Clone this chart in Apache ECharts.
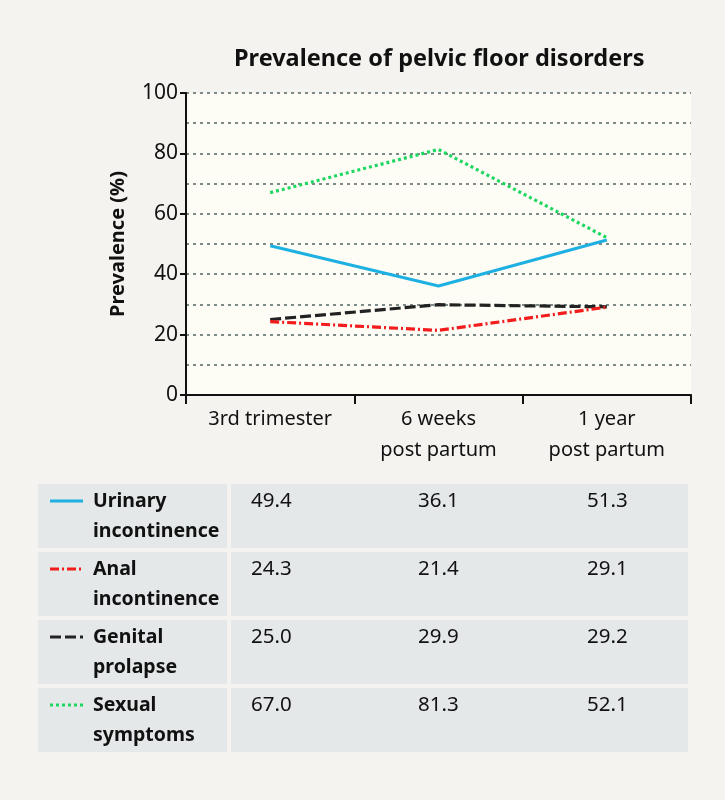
<!DOCTYPE html>
<html><head><meta charset="utf-8">
<script src="https://cdn.jsdelivr.net/npm/echarts@6/dist/echarts.min.js"></script>
<style>html,body{margin:0;padding:0;background:#f4f3f0}#c{width:725px;height:800px}</style>
</head><body><div id="c"></div>
<script>
var categories = ['3rd trimester', '6 weeks\npost partum', '1 year\npost partum'];
var seriesNames = ['Urinary\nincontinence', 'Anal\nincontinence', 'Genital\nprolapse', 'Sexual\nsymptoms'];
var urinary = [49.4, 36.1, 51.3];
var anal = [24.3, 21.4, 29.1];
var genital = [25.0, 29.9, 29.2];
var sexual = [67.0, 81.3, 52.1];
var yTicks = [0, 20, 40, 60, 80, 100];

var FONT = '"Noto Sans", "Open Sans", sans-serif';
var styles = [
  {color: '#1fb0e2', type: 'solid'},
  {color: '#f21c1c', type: [9, 3, 2, 3]},
  {color: '#222222', type: [11, 4]},
  {color: '#1ed760', type: [3, 3]}
];
var allData = [urinary, anal, genital, sexual];

var series = allData.map(function (d, i) {
  return {
    name: seriesNames[i], type: 'line', data: d, symbol: 'none',
    lineStyle: {color: styles[i].color, type: styles[i].type, width: 3.2},
    z: 10 - i
  };
});

var graphics = [];
var rowY0 = 484, rowStep = 68, rowH = 64;
var col0X = 38, col0W = 189, col1X = 231, col1W = 457;
var valueX = [251, 418, 587];
allData.forEach(function (d, i) {
  var y = rowY0 + i * rowStep;
  graphics.push({type: 'rect', shape: {x: col0X, y: y, width: col0W, height: rowH}, style: {fill: '#e5e8e9'}});
  graphics.push({type: 'rect', shape: {x: col1X, y: y, width: col1W, height: rowH}, style: {fill: '#e5e8e9'}});
  graphics.push({type: 'line', shape: {x1: 50, y1: y + 17, x2: 83, y2: y + 17},
    style: {stroke: styles[i].color, lineWidth: 3, lineDash: styles[i].type === 'solid' ? null : styles[i].type}});
  graphics.push({type: 'text', x: 93, y: y + 2, style: {text: seriesNames[i], font: 'bold 19.5px ' + FONT, fill: '#111', lineHeight: 30, verticalAlign: 'top'}});
  d.forEach(function (v, j) {
    graphics.push({type: 'text', x: valueX[j], y: y + 2, style: {text: v.toFixed(1), font: '20.5px ' + FONT, fill: '#111', lineHeight: 30, verticalAlign: 'top'}});
  });
});

var chart = echarts.init(document.getElementById('c'), null, {renderer: 'canvas'});
chart.setOption({
  backgroundColor: '#f4f3f0',
  animation: false,
  title: {
    text: 'Prevalence of pelvic floor disorders', left: 229, top: 42,
    textStyle: {fontFamily: FONT, fontWeight: 'bold', fontSize: 23.5, color: '#111'}
  },
  grid: {left: 186, right: 34, top: 93, bottom: 405, show: true, backgroundColor: '#fdfdf6', borderWidth: 0},
  xAxis: {
    type: 'category', data: categories, boundaryGap: true,
    axisLine: {lineStyle: {color: '#111', width: 2}},
    axisTick: {show: true, length: 9, lineStyle: {color: '#111', width: 2}},
    axisLabel: {fontFamily: FONT, fontSize: 20, color: '#111', lineHeight: 31, margin: 9}
  },
  yAxis: {
    type: 'value', min: 0, max: 100, interval: 20,
    name: 'Prevalence (%)', nameLocation: 'middle', nameGap: 58,
    nameTextStyle: {fontFamily: FONT, fontWeight: 'bold', fontSize: 20, color: '#111'},
    axisLine: {show: true, lineStyle: {color: '#111', width: 2}},
    axisTick: {show: true, length: 6, lineStyle: {color: '#111', width: 2}},
    axisLabel: {fontFamily: FONT, fontSize: 21, color: '#111', margin: 8},
    splitLine: {show: true, lineStyle: {color: '#7d8b8b', width: 2, type: [3, 4]}},
    minorTick: {show: false, splitNumber: 2},
    minorSplitLine: {show: true, lineStyle: {color: '#7d8b8b', width: 2, type: [3, 4]}}
  },
  series: series,
  graphic: graphics
});
</script></body></html>
